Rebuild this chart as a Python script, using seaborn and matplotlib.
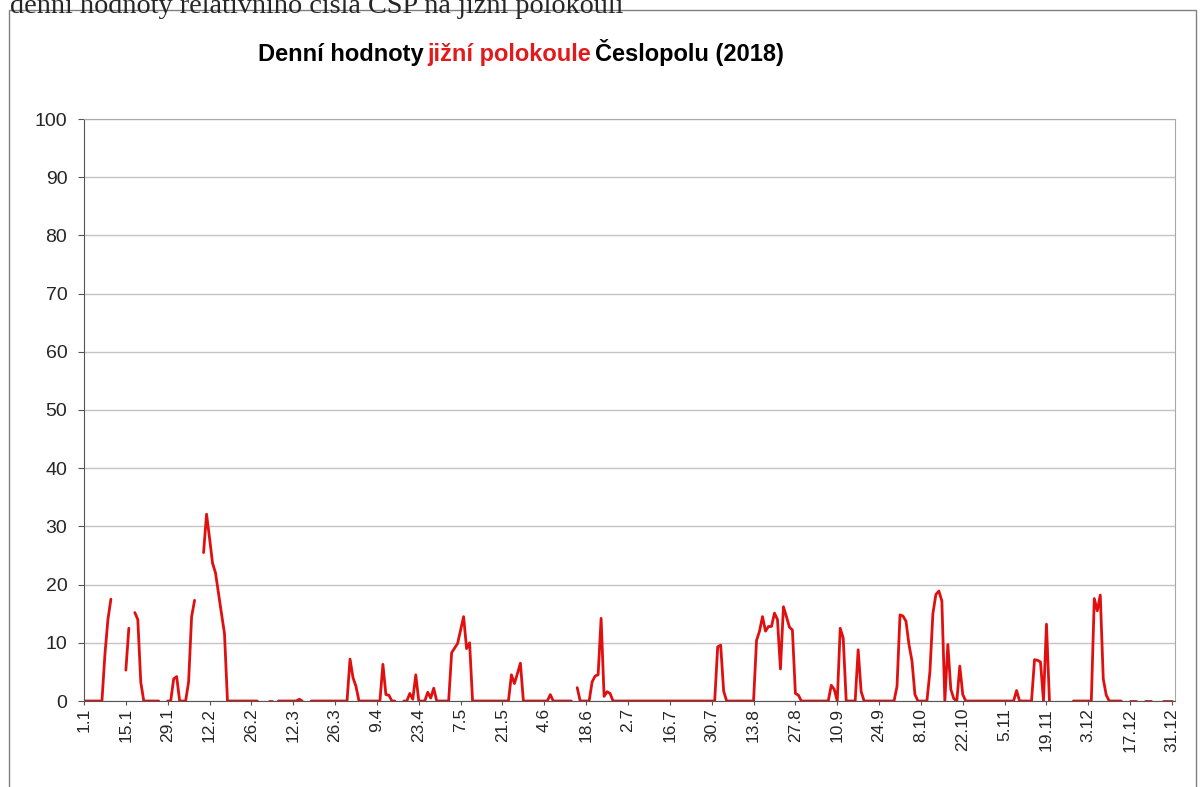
import numpy as np
import pandas as pd
import matplotlib
matplotlib.use('Agg')
import matplotlib.pyplot as plt
import seaborn as sns
from matplotlib.patches import Rectangle

N = np.nan

# daily values, one list per month (NaN = no observation)
jan = [0, 0, 0, 0, 0, 0, 0, 8, 14, 17.5, N, N, N, N, 5.3, 12.5, N, 15.2, 14.0, 3.2,
       0, 0, 0, 0, 0, 0, N, N, 0, 0, 3.8]
feb = [4.2, 0, 0, 0, 3.3, 14.5, 17.3, N, N, 25.5, 32.1, 28, 23.7, 22, 18.5, 15, 11.6,
       0, 0, 0, 0, 0, 0, 0, 0, 0, 0, 0]
mar = [N, N, N, 0, 0, N, 0, 0, 0, 0, 0, 0, 0, 0.3, 0, N, N,
       0, 0, 0, 0, 0, 0, 0, 0, 0, 0, 0, 0, 0, 7.2]
apr = [4.0, 2.5, 0, 0, 0, 0, 0, 0, 0, 0, 6.3, 1.1, 1.0, 0, 0, N, N,
       0, 0, 1.3, 0.3, 4.5, 0, 0, 0, 1.5, 0.5, 2.2, 0, 0]
may = [0, 0, 0, 8.3, 9.1, 9.9, 12.2, 14.5, 9.0, 10.0,
       0, 0, 0, 0, 0, 0, 0, 0, 0, 0, 0, 0, 0, 4.5, 3.0, 4.7, 6.5, 0, 0, 0, 0]
jun = [0, 0, 0, 0, 0, 1.1, 0, 0, 0, 0, 0, 0, 0, N, 2.3, 0, 0, 0, 0,
       3.3, 4.3, 4.5, 14.2, 0.8, 1.6, 1.3, 0, 0, 0, 0]
jul = [0] * 31
aug = [9.3, 9.6, 1.7, 0, 0, 0, 0, 0, 0, 0, 0, 0, 0,
       10.4, 12.0, 14.5, 12.0, 12.8, 12.8, 15.1, 14.0, 5.5, 16.2, 14.5, 12.7, 12.2,
       1.3, 1.0, 0, 0, 0]
sep = [0, 0, 0, 0, 0, 0, 0, 2.7, 2.0, 0, 12.5, 10.8, 0, 0, 0, 0, 8.8, 1.6,
       0, 0, 0, 0, 0, 0, 0, 0, 0, 0, 0, 2.5]
okt = [14.8, 14.6, 13.7, 9.7, 6.9, 1.1, 0, 0, 0, 0, 5.0, 15.0, 18.3, 18.9, 17.2, 0,
       9.7, 2.0, 0.4, 0, 6.0, 1.1, 0, 0, 0, 0, 0, 0, 0, 0, 0]
nov = [0, 0, 0, 0, 0, 0, 0, 0, 1.8, 0, 0, 0, 0, 0, 7.1, 7.0, 6.7, 0, 13.2, 0,
       N, N, N, N, N, N, N, 0, 0, 0]
dec = [0, 0, 0, 0, 17.6, 15.5, 18.2, 3.8, 1.0, 0, 0, 0, 0, 0, N, N, 0, 0, 0,
       N, N, 0, 0, 0, N, N, N, 0, 0, 0, 0]

values = jan + feb + mar + apr + may + jun + jul + aug + sep + okt + nov + dec
dates = pd.date_range('2018-01-01', '2018-12-31', freq='D')

df = pd.DataFrame({'day': np.arange(len(dates)), 'value': values})
# every run of days without a gap becomes its own line piece
df['segment'] = df['value'].isna().cumsum()
df = df.dropna()

sns.set_style('white')
plt.rcParams['font.family'] = ['Liberation Sans', 'DejaVu Sans']

W, H = 1203, 787
fig = plt.figure(figsize=(W / 100, H / 100), dpi=100)
ax = fig.add_axes([84 / W, 1 - 701 / H, (1175 - 84) / W, (701 - 119) / H])

sns.lineplot(data=df, x='day', y='value', units='segment', estimator=None,
             color='#e01010', linewidth=2.0, ax=ax, legend=False)

ax.set_xlim(0, 365)
ax.set_ylim(0, 100)
ax.set_yticks(range(0, 101, 10))
ticks = list(range(0, 365, 14))
ax.set_xticks(ticks)
ax.set_xticklabels([f'{dates[i].day}.{dates[i].month}' for i in ticks], rotation=90)
ax.set_xlabel('')
ax.set_ylabel('')

ax.yaxis.grid(True, color='#c4c4c4', linewidth=1)
ax.set_axisbelow(True)
for side in ['left', 'bottom']:
    ax.spines[side].set_color('#555555')
for side in ['top', 'right']:
    ax.spines[side].set_color('#a8a8a8')
ax.tick_params(axis='x', direction='out', length=3, color='#555555', pad=2,
               labelsize=12.5, bottom=True)
ax.tick_params(axis='y', direction='out', length=4, color='#555555', pad=8,
               labelsize=14, left=True)

# chart area frame
fig.patches.append(Rectangle((9 / W, -0.1), (1196 - 9) / W, 1.1 - 10 / H,
                             transform=fig.transFigure, fill=False,
                             edgecolor='#808080', linewidth=1))

# text of the page above, cut off by the crop
fig.text(10 / W, 1 - 13 / H, 'denní hodnoty relativního čísla CSP na jižní polokouli',
         family=['Liberation Serif', 'DejaVu Serif'], fontsize=20.3, va='baseline')

# title in three colours
fig.canvas.draw()
renderer = fig.canvas.get_renderer()
x = 258
parts = [('Denní hodnoty', 'black'), ('jižní polokoule', '#e31a1c'),
         ('Česlopolu (2018)', 'black')]
for txt, col in parts:
    t = fig.text(x / W, 1 - 61 / H, txt, color=col, fontsize=17, fontweight='bold',
                 va='baseline')
    bb = t.get_window_extent(renderer=renderer)
    x = bb.x1 + 4

fig.savefig('out.png', dpi=100)
